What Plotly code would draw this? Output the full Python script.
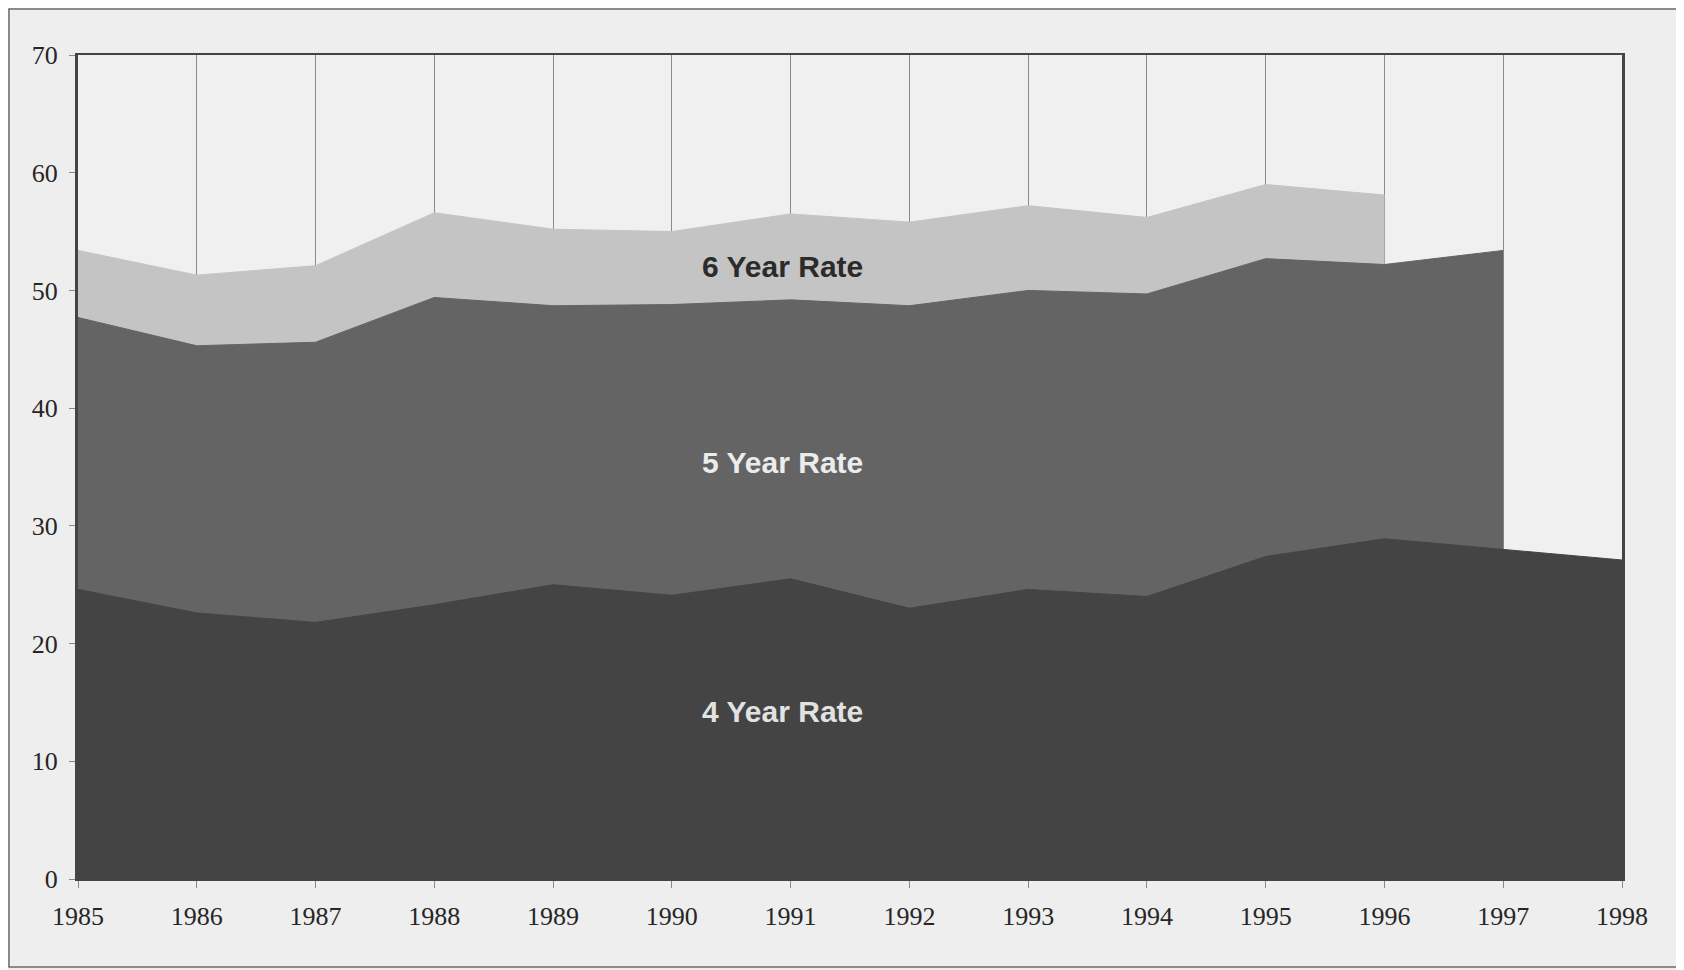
import plotly.graph_objects as go

years = list(range(1985, 1999))

# graduation rates (percent)
rate_6yr = [53.4, 51.3, 52.1, 56.6, 55.2, 55.0, 56.5, 55.8, 57.2, 56.2, 59.0, 58.1]
rate_5yr = [47.7, 45.3, 45.6, 49.4, 48.7, 48.8, 49.2, 48.7, 50.0, 49.7, 52.7, 52.2, 53.4]
rate_4yr = [24.6, 22.6, 21.8, 23.3, 25.0, 24.1, 25.5, 23.0, 24.6, 24.0, 27.4, 28.9, 28.0, 27.1]

series = [
    ("6 Year Rate", rate_6yr, "#c4c4c4", "#2b2b2b", 52.0),
    ("5 Year Rate", rate_5yr, "#646464", "#ececec", 35.4),
    ("4 Year Rate", rate_4yr, "#444444", "#e2e2e2", 14.2),
]

fig = go.Figure()
for name, vals, fill, _, _ in series:
    fig.add_trace(go.Scatter(
        x=years[:len(vals)], y=vals, name=name,
        mode="lines", fill="tozeroy", fillcolor=fill,
        line=dict(color=fill, width=1),
        hoverinfo="x+y",
    ))

for name, _, _, txt, ypos in series:
    fig.add_annotation(
        x=1990.93, y=ypos, text="<b>" + name + "</b>", showarrow=False,
        font=dict(family="Liberation Sans, Arial, sans-serif", size=30, color=txt),
    )

# outer frame round the whole picture (page body adds 8px offset)
fig.add_shape(
    type="rect", xref="paper", yref="paper",
    x0=-0.0447, x1=1.0382, y0=-0.1068, y1=1.0558,
    line=dict(color="#6a6a6a", width=1.5), layer="below",
)

fig.update_xaxes(
    range=[1985, 1998], tickvals=years, ticks="outside", ticklen=7,
    tickcolor="#888888", ticklabelstandoff=6,
    showgrid=True, gridcolor="#8c8c8c", gridwidth=1,
    showline=True, linecolor="#444444", linewidth=2, mirror=True,
    zeroline=False,
)
fig.update_yaxes(
    range=[0, 70], dtick=10, ticks="outside", ticklen=6,
    tickcolor="#888888", ticklabelstandoff=6, showgrid=False,
    showline=True, linecolor="#444444", linewidth=3, mirror=True,
    zeroline=False,
)
fig.update_layout(
    width=1676, height=962,
    margin=dict(l=70, r=62, t=47, b=91),
    paper_bgcolor="#eeeeee", plot_bgcolor="#f0f0f0",
    showlegend=False,
    font=dict(family="Liberation Serif, Times New Roman, serif", size=26, color="#262626"),
)

fig.write_html("out.html")
